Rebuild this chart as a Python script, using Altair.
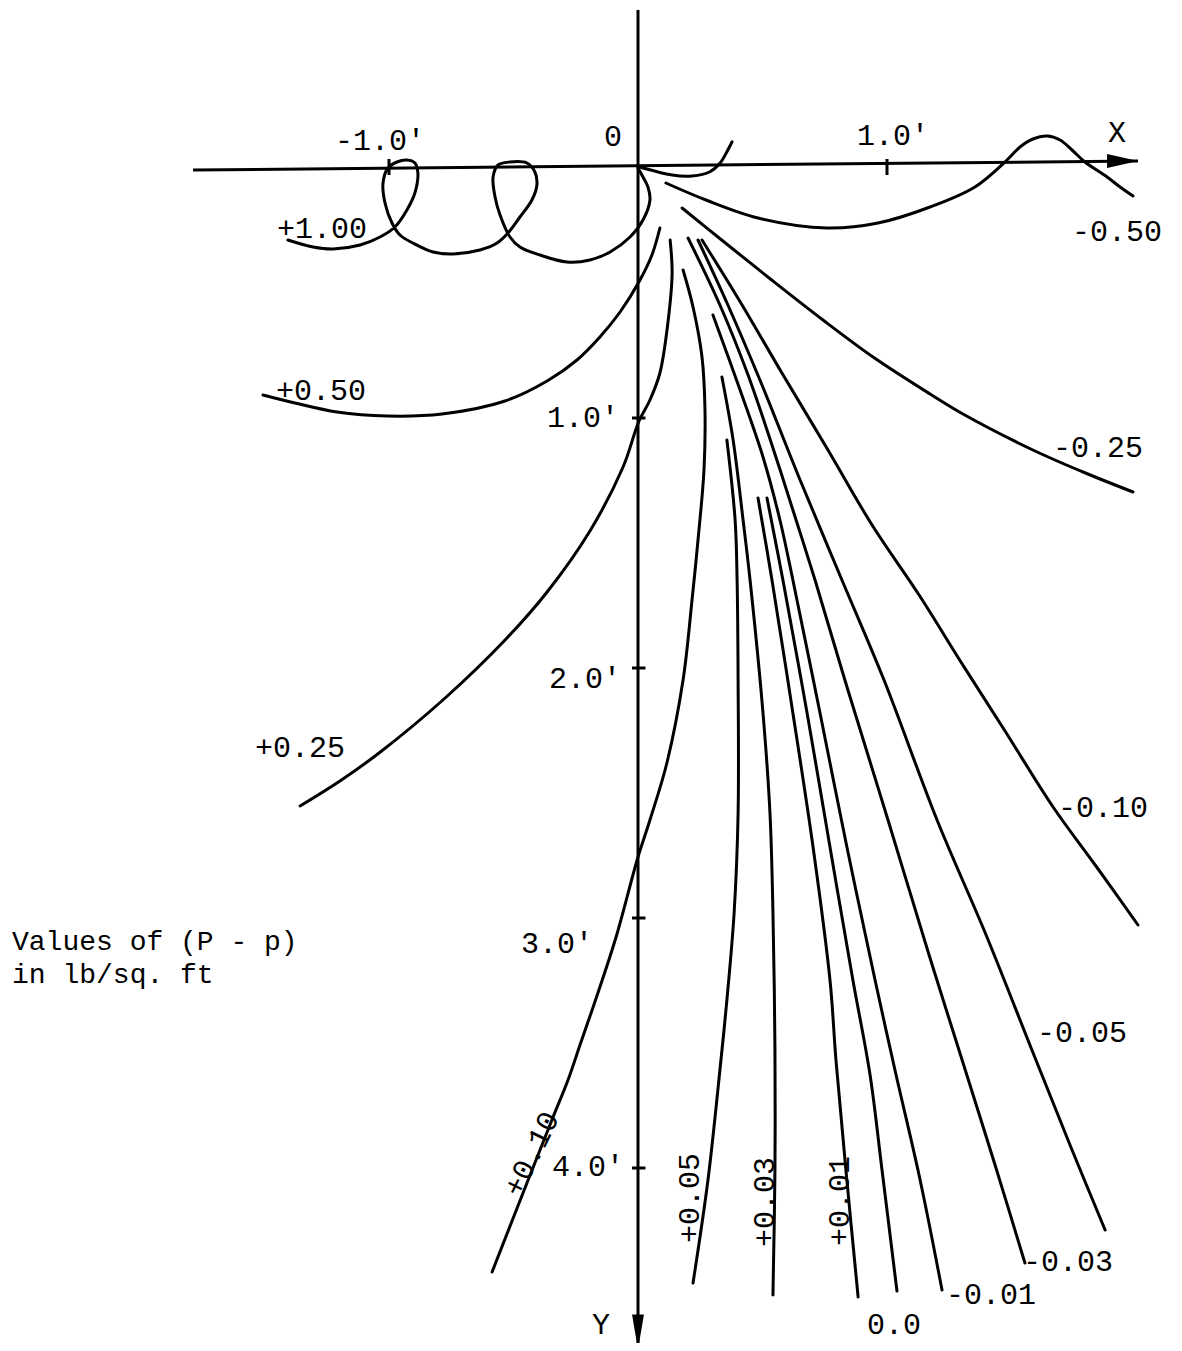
import altair as alt
import pandas as pd

# ---------------- data (feet; x to the right, depth y positive downward) ----------------
# +1.00 (looping line near the surface)
P100_X = [-1.406, -1.305, -1.225, -1.116, -1.036, -0.976, -0.928, -0.896, -0.884, -0.896, -0.928, -0.968,
          -1.004, -1.024, -1.016, -0.988, -0.956, -0.904, -0.823, -0.743, -0.635, -0.566, -0.522, -0.474,
          -0.426, -0.406, -0.414, -0.446, -0.514, -0.562, -0.582, -0.574, -0.554, -0.514, -0.474, -0.394,
          -0.285, -0.193, -0.112, -0.032, 0.020, 0.048, 0.040, 0.020, 0.000]
P100_Y = [0.288, 0.316, 0.324, 0.308, 0.276, 0.236, 0.168, 0.100, 0.020, -0.020, -0.032, -0.024,
          0.000, 0.060, 0.140, 0.220, 0.268, 0.300, 0.336, 0.344, 0.328, 0.300, 0.260, 0.196,
          0.128, 0.068, 0.016, -0.020, -0.024, -0.012, 0.036, 0.116, 0.188, 0.276, 0.316, 0.348,
          0.376, 0.368, 0.336, 0.276, 0.208, 0.128, 0.076, 0.036, 0.000]
# short unlabeled line right of the origin
SHORT_X = [0.004, 0.137, 0.217, 0.289, 0.329, 0.357, 0.378]
SHORT_Y = [-0.005, 0.028, 0.032, 0.015, -0.019, -0.065, -0.105]
# -0.50
M050_X = [0.112, 0.273, 0.482, 0.759, 0.964, 1.173, 1.353, 1.482, 1.534, 1.586, 1.643, 1.695, 1.743,
          1.795, 1.884, 1.936, 1.988]
M050_Y = [0.060, 0.128, 0.200, 0.240, 0.220, 0.156, 0.076, -0.032, -0.084, -0.116, -0.128, -0.112,
          -0.072, -0.024, 0.036, 0.076, 0.112]
# -0.25
M025_X = [0.177, 0.341, 0.542, 0.743, 0.944, 1.173, 1.305, 1.586, 1.787, 1.988]
M025_Y = [0.160, 0.292, 0.452, 0.608, 0.756, 0.904, 0.984, 1.128, 1.216, 1.296]
# -0.10
M010_X = [0.257, 0.406, 0.578, 0.763, 0.940, 1.129, 1.297, 1.474, 1.667, 1.839, 2.008]
M010_Y = [0.288, 0.528, 0.820, 1.128, 1.428, 1.708, 1.976, 2.252, 2.556, 2.792, 3.028]
# -0.05
M005_X = [0.241, 0.361, 0.498, 0.651, 0.819, 0.988, 1.201, 1.398, 1.582, 1.735, 1.876]
M005_Y = [0.288, 0.548, 0.868, 1.248, 1.648, 2.048, 2.608, 3.068, 3.528, 3.908, 4.248]
# -0.03
M003_X = [0.201, 0.329, 0.442, 0.538, 0.631, 0.711, 0.843, 1.004, 1.169, 1.289, 1.434, 1.554]
M003_Y = [0.280, 0.548, 0.828, 1.108, 1.396, 1.648, 2.088, 2.608, 3.148, 3.528, 3.988, 4.380]
# -0.01
M001_X = [0.301, 0.410, 0.502, 0.570, 0.622, 0.731, 0.839, 0.952, 1.032, 1.133, 1.221]
M001_Y = [0.588, 0.888, 1.156, 1.408, 1.648, 2.180, 2.716, 3.248, 3.608, 4.048, 4.488]
# 0.0
Z000_X = [0.518, 0.582, 0.679, 0.771, 0.863, 0.932, 0.980, 1.040]
Z000_Y = [1.320, 1.648, 2.180, 2.716, 3.248, 3.628, 4.008, 4.492]
# +0.01
P001_X = [0.482, 0.538, 0.622, 0.703, 0.771, 0.795, 0.835, 0.884]
P001_Y = [1.320, 1.648, 2.180, 2.716, 3.248, 3.568, 4.008, 4.516]
# +0.03
P003_X = [0.337, 0.382, 0.422, 0.450, 0.502, 0.530, 0.542, 0.550, 0.550, 0.542]
P003_Y = [0.836, 1.088, 1.408, 1.648, 2.180, 2.580, 2.980, 3.528, 4.008, 4.508]
# +0.05
P005_X = [0.357, 0.390, 0.398, 0.402, 0.402, 0.386, 0.357, 0.329, 0.281, 0.221]
P005_Y = [1.088, 1.408, 1.648, 2.048, 2.580, 2.980, 3.328, 3.608, 4.048, 4.460]
# +0.10
P010_X = [0.181, 0.221, 0.257, 0.269, 0.265, 0.241, 0.217, 0.181, 0.116, 0.048, 0.000, -0.088,
          -0.157, -0.233, -0.281, -0.341, -0.446, -0.586]
P010_Y = [0.408, 0.556, 0.756, 0.968, 1.208, 1.488, 1.728, 2.048, 2.380, 2.608, 2.756, 3.076,
          3.288, 3.508, 3.648, 3.796, 4.060, 4.416]
# +0.25
P025_X = [0.129, 0.137, 0.120, 0.088, 0.048, 0.004, -0.060, -0.193, -0.365, -0.530, -0.779, -1.040,
          -1.197, -1.357]
P025_Y = [0.288, 0.420, 0.620, 0.820, 0.928, 1.012, 1.196, 1.452, 1.696, 1.884, 2.124, 2.340,
          2.452, 2.552]
# +0.50
P050_X = [-1.506, -1.378, -1.209, -1.008, -0.787, -0.534, -0.365, -0.245, -0.153, -0.072, 0.008,
          0.056, 0.088]
P050_Y = [0.908, 0.940, 0.976, 0.992, 0.984, 0.932, 0.852, 0.768, 0.676, 0.576, 0.448, 0.348, 0.240]

CURVE_NAMES = ["+1.00", "short", "-0.50", "-0.25", "-0.10", "-0.05", "-0.03", "-0.01", "0.0",
               "+0.01", "+0.03", "+0.05", "+0.10", "+0.25", "+0.50"]
CURVE_XS = [P100_X, SHORT_X, M050_X, M025_X, M010_X, M005_X, M003_X, M001_X, Z000_X,
            P001_X, P003_X, P005_X, P010_X, P025_X, P050_X]
CURVE_YS = [P100_Y, SHORT_Y, M050_Y, M025_Y, M010_Y, M005_Y, M003_Y, M001_Y, Z000_Y,
            P001_Y, P003_Y, P005_Y, P010_Y, P025_Y, P050_Y]

# axes (hand drawn; the X axis rises slightly to the right)
AXIS_SEG = ["xaxis", "xaxis", "yaxis", "yaxis"]
AXIS_X = [-1.787, 2.008, 0.0, 0.0]
AXIS_Y = [0.008, -0.028, -0.632, 4.70]
XTICK_VALUES = [-1.0, 1.0]
YTICK_VALUES = [1.0, 2.0, 3.0, 4.0]

# labels (centre positions in feet)
LABEL_TEXT = ["-1.0'", "0", "1.0'", "X", "+1.00", "-0.50", "+0.50", "1.0'", "-0.25", "2.0'",
              "+0.25", "-0.10", "3.0'", "-0.05", "4.0'", "-0.03", "-0.01", "0.0", "Y",
              "+0.10", "+0.05", "+0.03", "+0.01"]
LABEL_X = [-1.036, -0.100, 1.024, 1.924, -1.269, 1.924, -1.273, -0.221, 1.847, -0.213,
           -1.357, 1.867, -0.325, 1.783, -0.201, 1.727, 1.418, 1.028, -0.149,
           -0.426, 0.209, 0.510, 0.811]
LABEL_Y = [-0.108, -0.124, -0.128, -0.140, 0.244, 0.256, 0.892, 1.000, 1.120, 2.044,
           2.320, 2.560, 3.104, 3.460, 3.996, 4.376, 4.508, 4.628, 4.628,
           3.944, 4.120, 4.136, 4.132]
LABEL_ANGLE = [0, 0, 0, 0, 0, 0, 0, 0, 0, 0, 0, 0, 0, 0, 0, 0, 0, 0, 0,
               296, 270, 270, 270]

NOTE_TEXT = ["Values of (P - p)", "in lb/sq. ft"]
NOTE_X = [-2.514, -2.514]
NOTE_Y = [3.128, 3.260]

# ---------------- build tables ----------------
rows = []
for name, xs, ys in zip(CURVE_NAMES, CURVE_XS, CURVE_YS):
    for i, (x, y) in enumerate(zip(xs, ys)):
        rows.append({"curve": name, "i": i, "x": x, "y": y})
curves = pd.DataFrame(rows)

axis_rows = [{"seg": s, "i": k, "x": x, "y": y} for k, (s, x, y) in enumerate(zip(AXIS_SEG, AXIS_X, AXIS_Y))]
for v in XTICK_VALUES:
    axis_rows.append({"seg": f"xt{v}", "i": 0, "x": v, "y": -0.036})
    axis_rows.append({"seg": f"xt{v}", "i": 1, "x": v, "y": 0.028})
for v in YTICK_VALUES:
    axis_rows.append({"seg": f"yt{v}", "i": 0, "x": -0.024, "y": v})
    axis_rows.append({"seg": f"yt{v}", "i": 1, "x": 0.030, "y": v})
axes = pd.DataFrame(axis_rows)

labels = pd.DataFrame({"text": LABEL_TEXT, "x": LABEL_X, "y": LABEL_Y, "angle": LABEL_ANGLE})
notes = pd.DataFrame({"text": NOTE_TEXT, "x": NOTE_X, "y": NOTE_Y})
arrow_x = pd.DataFrame({"x": [1.946], "y": [-0.028]})
arrow_y = pd.DataFrame({"x": [0.0], "y": [4.656]})

# ---------------- scales ----------------
XS = alt.Scale(domain=[-2.5301, 2.1526], nice=False, zero=False)
YS = alt.Scale(domain=[-0.64, 4.70], nice=False, zero=False, reverse=True)
X = alt.X("x:Q", scale=XS, axis=None)
Y = alt.Y("y:Q", scale=YS, axis=None)
FONT = "Liberation Mono"

curve_layer = alt.Chart(curves).mark_line(
    color="black", strokeWidth=3, interpolate="catmull-rom", strokeCap="round", strokeJoin="round"
).encode(x=X, y=Y, detail="curve:N", order="i:Q")

axis_layer = alt.Chart(axes).mark_line(color="black", strokeWidth=3).encode(
    x=X, y=Y, detail="seg:N", order="i:Q")

arrow_x_layer = alt.Chart(arrow_x).mark_point(
    shape="M -1 -0.45 L 1 0 L -1 0.45 Z", filled=True, color="black", opacity=1, size=961
).encode(x=X, y=Y)

arrow_y_layer = alt.Chart(arrow_y).mark_point(
    shape="M -0.34 -1 L 0.34 -1 L 0 1 Z", filled=True, color="black", opacity=1, size=1225
).encode(x=X, y=Y)

label_layer = alt.Chart(labels).mark_text(
    font=FONT, fontSize=30, color="black", align="center", baseline="middle"
).encode(x=X, y=Y, text="text:N", angle=alt.Angle("angle:Q", scale=None))

note_layer = alt.Chart(notes).mark_text(
    font=FONT, fontSize=28, color="black", align="left", baseline="alphabetic"
).encode(x=X, y=Y, text="text:N")

chart = alt.layer(
    curve_layer, axis_layer, arrow_x_layer, arrow_y_layer, label_layer, note_layer
).properties(
    width=1166, height=1335, padding=0,
    autosize=alt.AutoSizeParams(type="none"),
    background="white",
).configure_view(stroke=None)

chart.save("out.html", embed_options={"renderer": "svg", "actions": False})
